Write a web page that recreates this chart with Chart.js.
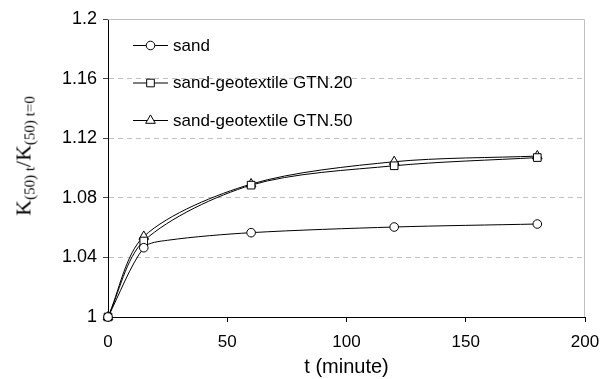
<!DOCTYPE html>
<html>
<head>
<meta charset="utf-8">
<script src="https://cdn.jsdelivr.net/npm/chart.js@4/dist/chart.umd.min.js"></script>
<style>
  html, body { margin: 0; padding: 0; background: #fff; }
  #wrap { position: relative; width: 601px; height: 379px; }
  #ytitle {
    position: absolute; left: 25px; top: 156px;
    transform: translate(-50%, -50%) rotate(-90deg);
    font-family: 'Liberation Serif', 'Times New Roman', serif;
    font-size: 22px; color: #000; white-space: nowrap; line-height: 1;
  }
  #ytitle sub { font-size: 15px; vertical-align: -4px; }
</style>
</head>
<body>
<div id="wrap">
  <canvas id="c" width="601" height="379"></canvas>
  <div id="ytitle">K<sub>(50) t</sub>/K<sub>(50) t=0</sub></div>
</div>
<script>
// ---- data ----
const timeMin    = [0, 15, 60, 120, 180];
const sandTime   = [0, 15, 25, 60, 120, 180];
const sandRatio  = [1.000, 1.0465, 1.0515, 1.0566, 1.0604, 1.0624];
const sandMarked = [true, true, false, true, true, true];
const gtn20Ratio = [1.000, 1.051, 1.0885, 1.1015, 1.107];
const gtn50Ratio = [1.000, 1.054, 1.0892, 1.1042, 1.108];
const seriesLabels = ['sand', 'sand-geotextile GTN.20', 'sand-geotextile GTN.50'];
const xTicks = [0, 50, 100, 150, 200];
const yTicks = [1, 1.04, 1.08, 1.12, 1.16, 1.2];
const xTitle = 't (minute)';

const FONT = "'Liberation Sans', Arial, sans-serif";

function toXY(xs, ys) { return xs.map((x, i) => ({x: x, y: ys[i]})); }

const styles = [
  {pointStyle: 'circle', radius: 4.3},
  {pointStyle: 'rect', radius: 5.4},
  {pointStyle: 'triangle', radius: 5.6}
];

function drawMarker(ctx, style, radius, x, y) {
  ctx.beginPath();
  if (style === 'circle') {
    ctx.arc(x, y, radius, 0, Math.PI * 2);
  } else if (style === 'rect') {
    const s = Math.SQRT1_2 * radius;
    ctx.rect(x - s, y - s, 2 * s, 2 * s);
  } else {
    let rad = 0;
    ctx.moveTo(x + Math.sin(rad) * radius, y - Math.cos(rad) * radius);
    rad += 2 * Math.PI / 3;
    ctx.lineTo(x + Math.sin(rad) * radius, y - Math.cos(rad) * radius);
    rad += 2 * Math.PI / 3;
    ctx.lineTo(x + Math.sin(rad) * radius, y - Math.cos(rad) * radius);
    ctx.closePath();
  }
  ctx.fillStyle = '#fff';
  ctx.fill();
  ctx.strokeStyle = '#000';
  ctx.lineWidth = 1;
  ctx.stroke();
}

const plotFrame = {
  id: 'plotFrame',
  beforeDatasetsDraw(chart) {
    const {ctx, chartArea: a} = chart;
    ctx.save();
    ctx.strokeStyle = '#c0c0c0';
    ctx.lineWidth = 1;
    ctx.beginPath();
    ctx.moveTo(a.left, a.top + 0.5);
    ctx.lineTo(a.right - 0.5, a.top + 0.5);
    ctx.lineTo(a.right - 0.5, a.bottom);
    ctx.stroke();
    ctx.restore();
  }
};

const innerLegend = {
  id: 'innerLegend',
  afterDatasetsDraw(chart) {
    const {ctx, chartArea: a} = chart;
    ctx.save();
    ctx.font = '17px ' + FONT;
    ctx.textBaseline = 'middle';
    ctx.fillStyle = '#000';
    chart.data.datasets.forEach((ds, i) => {
      const y = a.top + 26 + i * 37.5;
      const x0 = a.left + 25, x1 = a.left + 60;
      ctx.strokeStyle = '#000';
      ctx.lineWidth = 1;
      ctx.beginPath();
      ctx.moveTo(x0, y + 0.5);
      ctx.lineTo(x1, y + 0.5);
      ctx.stroke();
      drawMarker(ctx, styles[i].pointStyle, styles[i].radius, (x0 + x1) / 2, y + 0.5);
      ctx.fillStyle = '#000';
      ctx.fillText(ds.label, x1 + 5, y + 1);
    });
    ctx.restore();
  }
};

function makeDataset(label, pts, idx, radii) {
  return {
    label: label,
    data: pts,
    borderColor: '#000',
    borderWidth: 1,
    backgroundColor: '#fff',
    pointStyle: styles[idx].pointStyle,
    pointRadius: radii || styles[idx].radius,
    pointBorderWidth: 1,
    pointBorderColor: '#000',
    pointBackgroundColor: '#fff',
    pointHoverRadius: 0,
    tension: 0.3,
    fill: false,
    clip: false
  };
}

new Chart(document.getElementById('c'), {
  type: 'line',
  data: {
    datasets: [
      makeDataset(seriesLabels[0], toXY(sandTime, sandRatio), 0,
                  sandMarked.map(m => m ? styles[0].radius : 0)),
      makeDataset(seriesLabels[1], toXY(timeMin, gtn20Ratio), 1),
      makeDataset(seriesLabels[2], toXY(timeMin, gtn50Ratio), 2)
    ]
  },
  options: {
    responsive: false,
    animation: false,
    events: [],
    layout: { padding: { top: 19, right: 16, bottom: 0, left: 0 } },
    plugins: { legend: { display: false }, tooltip: { enabled: false } },
    scales: {
      x: {
        type: 'linear',
        min: 0, max: 200,
        afterBuildTicks(scale) { scale.ticks = xTicks.map(v => ({value: v})); },
        afterFit(scale) { scale.height = 62; scale.paddingLeft = 0; scale.paddingRight = 0; },
        grid: { drawOnChartArea: false, drawTicks: true, tickLength: 5, tickColor: '#000' },
        border: { display: true, color: '#000', width: 1 },
        ticks: { color: '#000', font: { family: FONT, size: 17 }, padding: 10, maxRotation: 0,
                 callback: v => String(v) },
        title: { display: true, text: xTitle, color: '#000',
                 font: { family: FONT, size: 20 }, padding: { top: 0, bottom: 0 } }
      },
      y: {
        min: 1, max: 1.2,
        afterBuildTicks(scale) { scale.ticks = yTicks.map(v => ({value: v})); },
        afterFit(scale) { scale.width = 108; scale.paddingTop = 0; scale.paddingBottom = 0; },
        grid: {
          color: ctx => (ctx.tick && (ctx.tick.value === 1)) ? 'rgba(0,0,0,0)' : '#c0c0c0',
          lineWidth: 1, drawTicks: true, tickLength: 5, tickColor: '#444'
        },
        border: { display: true, color: '#000', width: 1, dash: [5, 4] },
        ticks: { color: '#000', font: { family: FONT, size: 18 }, padding: 6,
                 callback: v => String(Math.round(v * 100) / 100) }
      }
    }
  },
  plugins: [plotFrame, innerLegend]
});
</script>
</body>
</html>
